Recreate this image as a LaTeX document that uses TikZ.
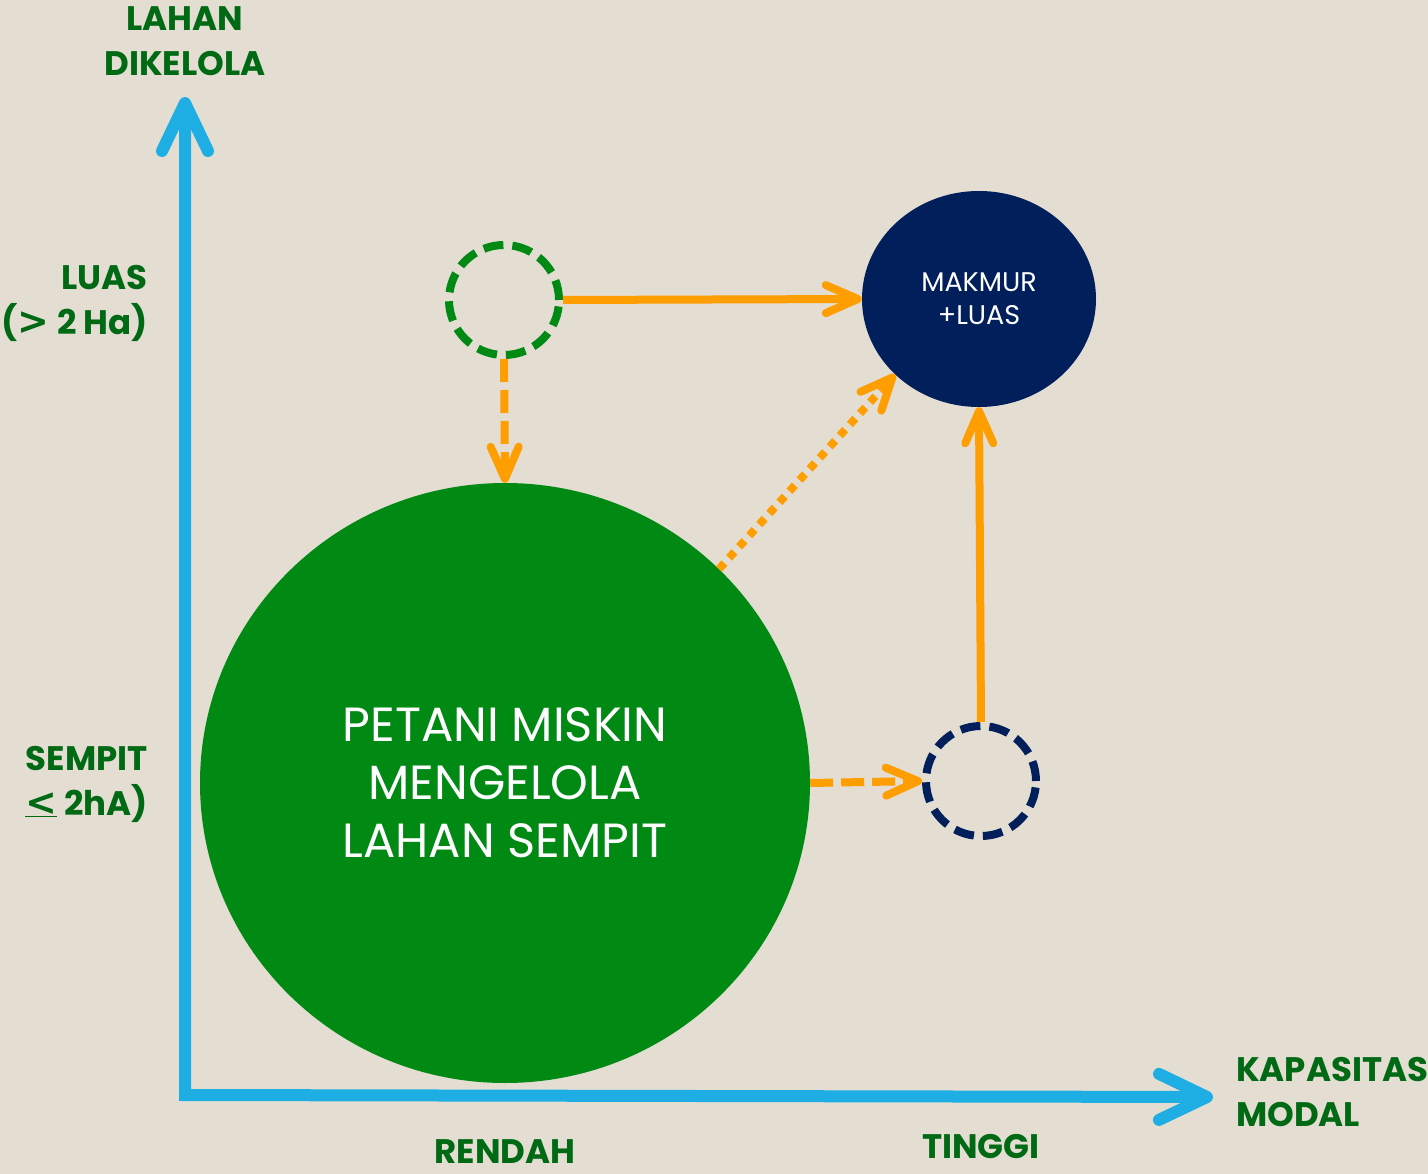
\documentclass[tikz,border=0pt]{standalone}
\usepackage{fontspec}
\setmainfont{Poppins}
\newfontfamily\symf{DejaVu Sans}
\usetikzlibrary{arrows.meta,shapes.geometric}
\definecolor{bg}{RGB}{227,221,210}
\definecolor{axisblue}{RGB}{30,174,228}
\definecolor{lblgreen}{RGB}{0,105,20}
\definecolor{biggreen}{RGB}{0,138,20}
\definecolor{navy}{RGB}{0,31,91}
\definecolor{orng}{RGB}{255,158,0}
\newcommand{\bigsym}[1]{{\fontsize{38}{45}\selectfont\symf\bfseries #1}}
\tikzset{
  lbl/.style={text=lblgreen, font=\fontsize{34}{45}\selectfont\bfseries, inner sep=0pt},
  axisline/.style={draw=axisblue, line width=12pt, line join=miter,
    arrows={Straight Barb[length=48pt,width=46pt,round]-Straight Barb[length=48pt,width=46pt,round]}},
  oarrow/.style={draw=orng, line width=8pt, -{Straight Barb[length=32pt,width=28pt,round]}},
  odash/.style={dash pattern=on 23pt off 8pt},
  odot/.style={dash pattern=on 8pt off 7pt},
  dcirc/.style={circle, minimum size=110pt, line width=8pt, dash pattern=on 20pt off 9pt, inner sep=0pt},
}
\begin{document}
\begin{tikzpicture}[x=1pt,y=-1pt]
\fill[bg] (0,0) rectangle (1428,1174);
\useasboundingbox (0,0) rectangle (1428,1174);

% axes
\coordinate (ytip) at (185,97);
\coordinate (O) at (185,1095);
\coordinate (xtip) at (1213,1097);
\draw[axisline] (ytip) -- (O) -- (xtip);

% circles
\node[ellipse, minimum width=610pt, minimum height=600pt, fill=biggreen, inner sep=0pt,
      text=white, align=center, font=\fontsize{48}{58}\selectfont] (big) at (505,783)
  {PETANI MISKIN\\MENGELOLA\\LAHAN SEMPIT};
\node[ellipse, minimum width=234pt, minimum height=216pt, fill=navy, inner sep=0pt,
      text=white, align=center, font=\fontsize{27}{33}\selectfont] (mk) at (979,299)
  {MAKMUR\\+LUAS};
\node[dcirc, draw=biggreen] (gd) at (504,300) {};
\node[dcirc, draw=navy] (nd) at (981,781) {};

% connectors
\draw[oarrow] (gd.east) -- (mk.west);
\draw[oarrow, odash] (gd.south) -- (big.north);
\draw[oarrow, odot] (big.45) -- (mk.222);
\draw[oarrow, odash] (big.east) -- (nd.west);
\draw[oarrow] (nd.north) -- (mk.south);

% labels
\node[lbl, align=center] (ylab) at (185,41) {LAHAN\\DIKELOLA};
\node[lbl, align=right, anchor=east] (luas) at (148,303) {LUAS\\(\bigsym{>} 2 Ha)};
\node[lbl, align=right, anchor=east] (sempit) at (148,784) {SEMPIT\\\underline{\bigsym{<}} 2hA)};
\node[lbl] (rendah) at (505,1152) {RENDAH};
\node[lbl] (tinggi) at (981,1147) {TINGGI};
\node[lbl, align=left, anchor=west] (xlab) at (1236,1092) {KAPASITAS\\MODAL};
\end{tikzpicture}
\end{document}
